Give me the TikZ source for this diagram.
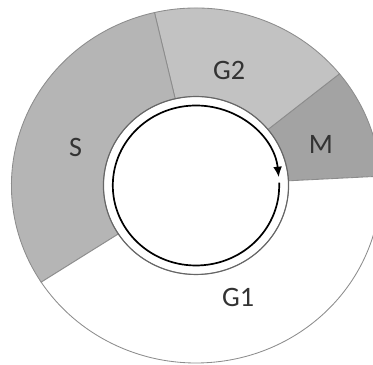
\documentclass[tikz,border=0pt]{standalone}
\usepackage{fontspec}
\setmainfont{Carlito}
\usetikzlibrary{arrows.meta}

\begin{document}
\begin{tikzpicture}[x=0.025cm,y=0.025cm]
  % Styles local to this figure.
  \tikzset{
    segdark/.style={fill=black!36,draw=black!45,line width=0.6pt},
    seglight/.style={fill=black!24,draw=black!45,line width=0.6pt},
    segmid/.style={fill=black!29,draw=black!45,line width=0.6pt},
    segwhite/.style={fill=white,draw=black!45,line width=0.6pt},
    lbl/.style={font=\fontsize{20}{24}\selectfont,text=black!80},
    cycarrow/.style={line width=1.2pt,-{Latex[length=2.6mm,width=2.2mm]}}
  }
  \useasboundingbox (0,0) rectangle (373,365);

  % Ring sectors, angles counterclockwise from the right.
  \begin{scope}[shift={(196,179.5)},xscale=1.04]
    \foreach \a/\b/\st in {3/39/segdark,39/103/seglight,103/213/segmid,213/363/segwhite}
      \draw[\st] (\a:89) arc[start angle=\a,end angle=\b,radius=89]
        -- (\b:177.5) arc[start angle=\b,end angle=\a,radius=177.5] -- cycle;
    % Inner edge of the ring.
    \draw[black!60,line width=0.8pt] (0,0) circle[radius=89];
    % Cycle arrow, running clockwise.
    \draw[cycarrow] (2:80) arc[start angle=2,end angle=-354,radius=80];
  \end{scope}

  % Sector labels.
  \node[lbl] (lblG2) at (229,294.5) {G2};
  \node[lbl] (lblS) at (75.5,218) {S};
  \node[lbl] (lblM) at (321,221) {M};
  \node[lbl] (lblG1) at (238,68) {G1};
\end{tikzpicture}
\end{document}
